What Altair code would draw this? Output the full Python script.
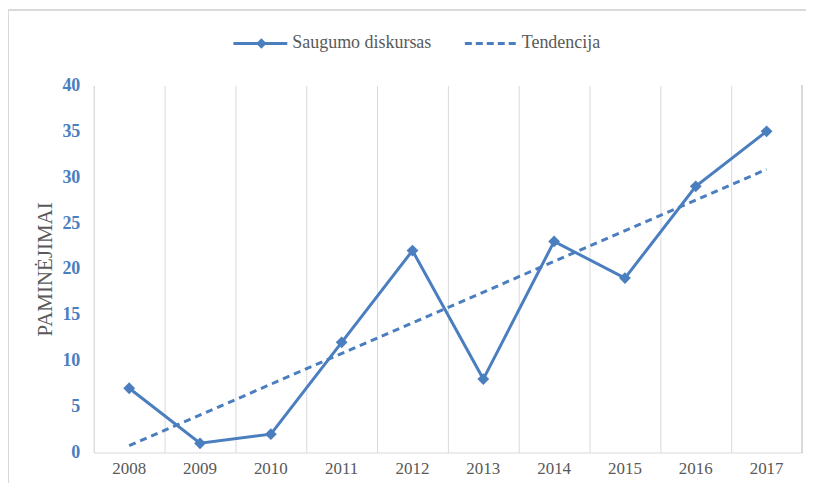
import altair as alt
import pandas as pd

years = [2008, 2009, 2010, 2011, 2012, 2013, 2014, 2015, 2016, 2017]
values = [7, 1, 2, 12, 22, 8, 23, 19, 29, 35]
y_ticks = [0, 5, 10, 15, 20, 25, 30, 35, 40]
series_name = "Saugumo diskursas"
trend_name = "Tendencija"
y_title = "PAMINĖJIMAI"

BLUE = "#4A7EBF"
GRAY = "#595959"
GRID = "#D9D9D9"
FONT = "Liberation Serif, Times New Roman, serif"

W, H = 710, 368

df = pd.DataFrame({"year": years, "value": values})

xenc = alt.X(
    "year:O",
    bandPosition=0.5,
    scale=alt.Scale(type="band", paddingInner=0, paddingOuter=0),
    axis=alt.Axis(
        title=None, labelAngle=0, grid=True, gridColor=GRID, bandPosition=0,
        ticks=False, domainColor=GRID, labelColor=GRAY, labelFont=FONT,
        labelFontSize=17, labelPadding=8,
    ),
)
yenc = alt.Y(
    "value:Q",
    scale=alt.Scale(domain=[0, 40], nice=False),
    axis=alt.Axis(
        values=y_ticks, title=y_title, titleFont=FONT, titleFontSize=21,
        titleFontWeight="normal", titleColor=GRAY, titlePadding=6,
        grid=False, ticks=False, domainColor=GRID, labelColor=BLUE,
        labelFont=FONT, labelFontWeight="bold", labelFontSize=18, labelPadding=14,
    ),
)

base = alt.Chart(df)

line = base.mark_line(color=BLUE, strokeWidth=3).encode(x=xenc, y=yenc)
pts = base.mark_point(shape="diamond", filled=True, color=BLUE, size=140, opacity=1).encode(x=xenc, y=yenc)
trend = base.transform_regression("year", "value").mark_line(
    color=BLUE, strokeWidth=3, strokeDash=[7, 5]
).encode(x=xenc, y=yenc)

right_edge = base.mark_rule(color=GRID, strokeWidth=1).encode(
    x=alt.value(W), y=alt.value(0), y2=alt.value(H)
)

frame = base.mark_rect(fill=None, stroke="#D9D9D9", strokeWidth=1).encode(
    x=alt.value(-85.5), x2=alt.value(780), y=alt.value(-75.5), y2=alt.value(480)
)

leg_df = pd.DataFrame({"a": [0]})
lb = alt.Chart(leg_df)
leg_line1 = lb.mark_rule(color=BLUE, strokeWidth=3).encode(
    x=alt.value(140), x2=alt.value(194), y=alt.value(-42)
)
leg_pt1 = lb.mark_point(shape="diamond", filled=True, color=BLUE, size=110, opacity=1).encode(
    x=alt.value(168), y=alt.value(-42)
)
leg_txt1 = lb.mark_text(align="left", baseline="middle", font=FONT, fontSize=18, color=GRAY).encode(
    x=alt.value(199), y=alt.value(-42), text=alt.value(series_name)
)
leg_line2 = lb.mark_rule(color=BLUE, strokeWidth=3, strokeDash=[7, 4]).encode(
    x=alt.value(372), x2=alt.value(424), y=alt.value(-42)
)
leg_txt2 = lb.mark_text(align="left", baseline="middle", font=FONT, fontSize=18, color=GRAY).encode(
    x=alt.value(429), y=alt.value(-42), text=alt.value(trend_name)
)

chart = alt.layer(
    frame, right_edge, line, pts, trend,
    leg_line1, leg_pt1, leg_txt1, leg_line2, leg_txt2,
).properties(
    width=W, height=H,
    autosize=alt.AutoSizeParams(type="none"),
    padding={"left": 86, "top": 77, "right": 4, "bottom": 30},
).configure(background="white", font=FONT).configure_view(stroke=None)

chart.save("out.html", embed_options={"renderer": "svg", "actions": False})
